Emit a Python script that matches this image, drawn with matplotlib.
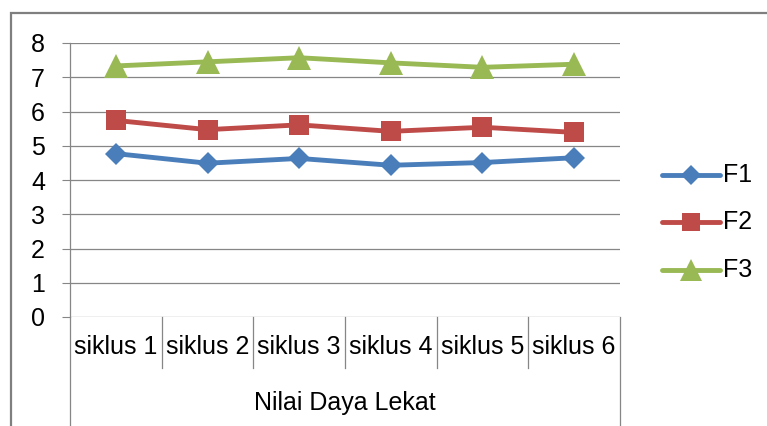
import matplotlib
matplotlib.use("Agg")
import matplotlib.pyplot as plt
from matplotlib.lines import Line2D
from matplotlib.patches import Rectangle

plt.rcParams['font.family'] = ['Liberation Sans', 'DejaVu Sans']

categories = ['siklus 1', 'siklus 2', 'siklus 3', 'siklus 4', 'siklus 5', 'siklus 6']
group_label = 'Nilai Daya Lekat'
series_names = ['F1', 'F2', 'F3']
F1 = [4.77, 4.49, 4.63, 4.43, 4.51, 4.65]
F2 = [5.74, 5.47, 5.61, 5.42, 5.54, 5.39]
F3 = [7.33, 7.45, 7.57, 7.42, 7.29, 7.38]
yticks = [0, 1, 2, 3, 4, 5, 6, 7, 8]

colors = ['#4A7EBB', '#BE4B48', '#98B954']
markers = ['D', 's', '^']
msizes = [11.5, 15, 17]
GRAY = '#868686'
FS = 18

W, H = 767, 426
fig = plt.figure(figsize=(W / 100, H / 100), dpi=100)

# outer chart frame (extends beyond the image on right and bottom)
fig.patches.append(Rectangle((11 / W, -0.2), 1.5, (1 - 13 / H) + 0.2,
                             transform=fig.transFigure, fill=False,
                             edgecolor='#7F7F7F', linewidth=1.6))

x0, x1, ytop, ybot = 70, 620, 43, 317
ax = fig.add_axes([x0 / W, 1 - ybot / H, (x1 - x0) / W, (ybot - ytop) / H])

xs = [i + 0.5 for i in range(len(categories))]
for data, c, m, ms in zip([F1, F2, F3], colors, markers, msizes):
    ax.plot(xs, data, color=c, marker=m, markersize=ms, linewidth=3.5,
            markeredgewidth=0, solid_capstyle='round', solid_joinstyle='round',
            zorder=3)

ax.set_xlim(0, len(categories))
ax.set_ylim(0, 8)
ax.set_yticks(yticks)
ax.set_yticklabels([str(v) for v in yticks], fontsize=FS)
ax.tick_params(axis='y', direction='out', length=6, width=0.8, color=GRAY, pad=12)
ax.tick_params(axis='x', bottom=False, labelbottom=False)
ax.grid(axis='y', color=GRAY, linewidth=0.9)
ax.set_axisbelow(True)
for s in ['top', 'right', 'bottom']:
    ax.spines[s].set_visible(False)
ax.spines['left'].set_color(GRAY)
ax.spines['left'].set_linewidth(0.9)

# multi-level category axis
trans = ax.get_xaxis_transform()
axh = ybot - ytop
sep_y = -(368 - ybot) / axh
out_y = -(430 - ybot) / axh
for b in range(1, len(categories)):
    ax.plot([b, b], [0, sep_y], transform=trans, color=GRAY, linewidth=0.9,
            clip_on=False)
for b in [0, len(categories)]:
    ax.plot([b, b], [0, out_y], transform=trans, color=GRAY, linewidth=0.9,
            clip_on=False)
lab_y = -(347 - ybot) / axh
for x, lab in zip(xs, categories):
    ax.text(x, lab_y, lab, transform=trans, ha='center', va='center',
            fontsize=FS, color='#000000')
ax.text(len(categories) / 2, -(403 - ybot) / axh, group_label, transform=trans,
        ha='center', va='center', fontsize=FS, color='#000000')

# legend
leg_y = [175, 222, 270]
for name, c, m, ms, ly in zip(series_names, colors, markers, msizes, leg_y):
    fig.add_artist(Line2D([662 / W, 720 / W], [1 - ly / H, 1 - ly / H],
                          transform=fig.transFigure, color=c, linewidth=3.5,
                          solid_capstyle='round'))
    fig.add_artist(Line2D([691 / W], [1 - ly / H], transform=fig.transFigure,
                          color=c, marker=m, markersize=ms * 0.9,
                          markeredgewidth=0, linestyle='none'))
    fig.text(723 / W, 1 - ly / H, name, fontsize=FS, va='center', ha='left')

fig.savefig('out.png', dpi=100)
